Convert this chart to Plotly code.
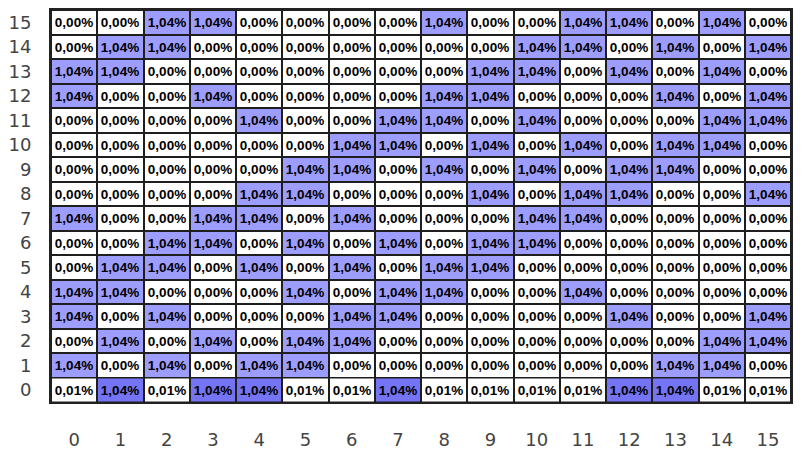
import plotly.graph_objects as go

# Grid values (percent). rows listed from y=15 (top) down to y=1; row 0 separate.
cols = list(range(16))
rows_top = list(range(15, 0, -1))
rows_grid = [
    [0,0,1,1,0,0,0,0,1,0,0,1,1,0,1,0],  # 15
    [0,1,1,0,0,0,0,0,0,0,1,1,0,1,0,1],  # 14
    [1,1,0,0,0,0,0,0,0,1,1,0,1,0,1,0],  # 13
    [1,0,0,1,0,0,0,0,1,1,0,0,0,1,0,1],  # 12
    [0,0,0,0,1,0,0,1,1,0,1,0,0,0,1,1],  # 11
    [0,0,0,0,0,0,1,1,0,1,0,1,0,1,1,0],  # 10
    [0,0,0,0,0,1,1,0,1,0,1,0,1,1,0,0],  # 9
    [0,0,0,0,1,1,0,0,0,1,0,1,1,0,0,1],  # 8
    [1,0,0,1,1,0,1,0,0,0,1,1,0,0,0,0],  # 7
    [0,0,1,1,0,1,0,1,0,1,1,0,0,0,0,0],  # 6
    [0,1,1,0,1,0,1,0,1,1,0,0,0,0,0,0],  # 5
    [1,1,0,0,0,1,0,1,1,0,0,1,0,0,0,0],  # 4
    [1,0,1,0,0,0,1,1,0,0,0,0,1,0,0,1],  # 3
    [0,1,0,1,0,1,1,0,0,0,0,0,0,0,1,1],  # 2
    [1,0,1,0,1,1,0,0,0,0,0,0,0,1,1,0],  # 1
]
high_value = 1.04
values_top = [[high_value if c else 0.0 for c in r] for r in rows_grid]
row0_values = [0.01,1.04,0.01,1.04,1.04,0.01,0.01,1.04,0.01,0.01,0.01,0.01,1.04,1.04,0.01,0.01]

def fmt(v):
    return f"{v:.2f}%".replace(".", ",")

light = "#9d9dfd"
dark = "#7474f4"
cell_font = dict(family="Liberation Sans, Arial, sans-serif", size=13.5, color="black", weight="bold")

fig = go.Figure()
fig.add_trace(go.Heatmap(
    x=cols, y=rows_top, z=values_top,
    text=[[fmt(v) for v in r] for r in values_top],
    texttemplate="%{text}", textfont=cell_font,
    colorscale=[[0, "white"], [0.5, "white"], [0.5, light], [1, light]],
    zmin=0, zmax=high_value, showscale=False, xgap=2, ygap=2, hoverinfo="skip",
))
fig.add_trace(go.Heatmap(
    x=cols, y=[0], z=[row0_values],
    text=[[fmt(v) for v in row0_values]],
    texttemplate="%{text}", textfont=cell_font,
    colorscale=[[0, "white"], [0.5, "white"], [0.5, dark], [1, dark]],
    zmin=0, zmax=high_value, showscale=False, xgap=2, ygap=2, hoverinfo="skip",
))

tick_font = dict(family="DejaVu Sans", size=18, color="#444444")
fig.update_xaxes(range=[-0.5, 15.5], tickvals=cols, ticktext=[str(c) for c in cols],
                 showgrid=False, zeroline=False, ticks="", tickfont=tick_font,
                 ticklabelstandoff=20, showline=True, linecolor="#222", linewidth=2, mirror=True)
fig.update_yaxes(range=[-0.5, 15.5], tickvals=list(range(16)), ticktext=[str(r) for r in range(16)],
                 showgrid=False, zeroline=False, ticks="", tickfont=tick_font,
                 ticklabelstandoff=14, showline=True, linecolor="#222", linewidth=2, mirror=True)
fig.update_layout(
    width=801, height=458, margin=dict(l=47, r=8, t=8, b=50),
    plot_bgcolor="#1e1e1e", paper_bgcolor="white", showlegend=False,
)
fig.write_html("out.html")
